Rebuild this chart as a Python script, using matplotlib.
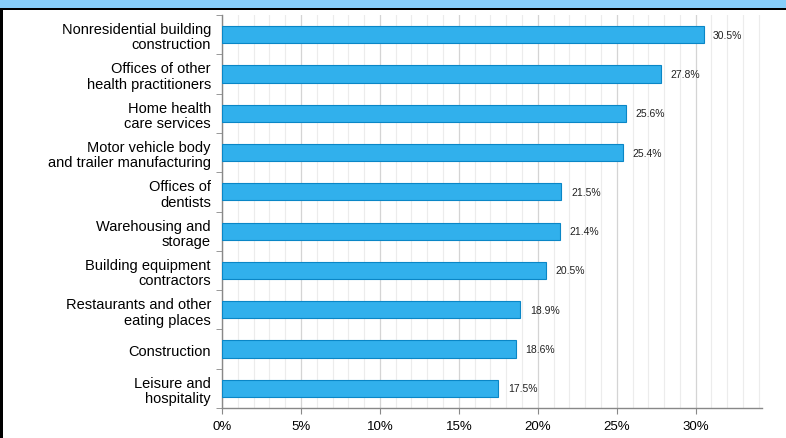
import numpy as np
import matplotlib.pyplot as plt
from matplotlib.patches import Rectangle
from matplotlib.ticker import MultipleLocator, FuncFormatter

plt.rcParams['font.family'] = ['Liberation Sans', 'DejaVu Sans']

industries = [
    'Nonresidential building\nconstruction',
    'Offices of other\nhealth practitioners',
    'Home health\ncare services',
    'Motor vehicle body\nand trailer manufacturing',
    'Offices of\ndentists',
    'Warehousing and\nstorage',
    'Building equipment\ncontractors',
    'Restaurants and other\neating places',
    'Construction',
    'Leisure and\nhospitality',
]
rates = [30.5, 27.8, 25.6, 25.4, 21.5, 21.4, 20.5, 18.9, 18.6, 17.5]

fig = plt.figure(figsize=(7.86, 4.39), dpi=100)
ax = fig.add_axes([222 / 786, 1 - 409 / 439, 540 / 786, 393 / 439])

y = np.arange(len(industries))
ax.barh(y, rates, height=0.44, color='#31b0ec', edgecolor='#0a86c6', linewidth=0.8, zorder=3)

for yi, v in zip(y, rates):
    ax.text(v + 0.6, yi, f'{v}%', va='center', ha='left', fontsize=7.5, color='#222222')

ax.set_xlim(0, 34.2)
ax.set_ylim(len(industries) - 0.5, -0.5)

ax.xaxis.set_major_locator(MultipleLocator(5))
ax.xaxis.set_minor_locator(MultipleLocator(1))
ax.xaxis.set_major_formatter(FuncFormatter(lambda v, p: f'{v:.0f}%'))
ax.grid(axis='x', which='major', color='#d4d4d4', linewidth=0.9, zorder=0)
ax.grid(axis='x', which='minor', color='#ececec', linewidth=0.8, zorder=0)

ax.set_yticks(y)
ax.set_yticklabels(industries, fontsize=10.5, linespacing=1.12)
ax.set_yticks(np.arange(len(industries) + 1) - 0.5, minor=True)
ax.tick_params(axis='y', which='major', length=0, pad=8)
ax.tick_params(axis='y', which='minor', length=4, color='#888888')
ax.tick_params(axis='x', which='major', length=4, color='#888888', labelsize=9.5, pad=5)
ax.tick_params(axis='x', which='minor', length=0)

for s in ['top', 'right']:
    ax.spines[s].set_visible(False)
for s in ['left', 'bottom']:
    ax.spines[s].set_color('#888888')
    ax.spines[s].set_linewidth(1.0)

# header band and frame
fig.patches.append(Rectangle((0, 1 - 9 / 439), 1, 9 / 439, transform=fig.transFigure,
                             facecolor='#87cefa', edgecolor='none'))
fig.patches.append(Rectangle((0, 1 - 11 / 439), 1, 2 / 439, transform=fig.transFigure,
                             facecolor='black', edgecolor='none'))
fig.patches.append(Rectangle((0, 0), 3 / 786, 1 - 9 / 439, transform=fig.transFigure,
                             facecolor='black', edgecolor='none'))

fig.savefig('out.png', dpi=100)
